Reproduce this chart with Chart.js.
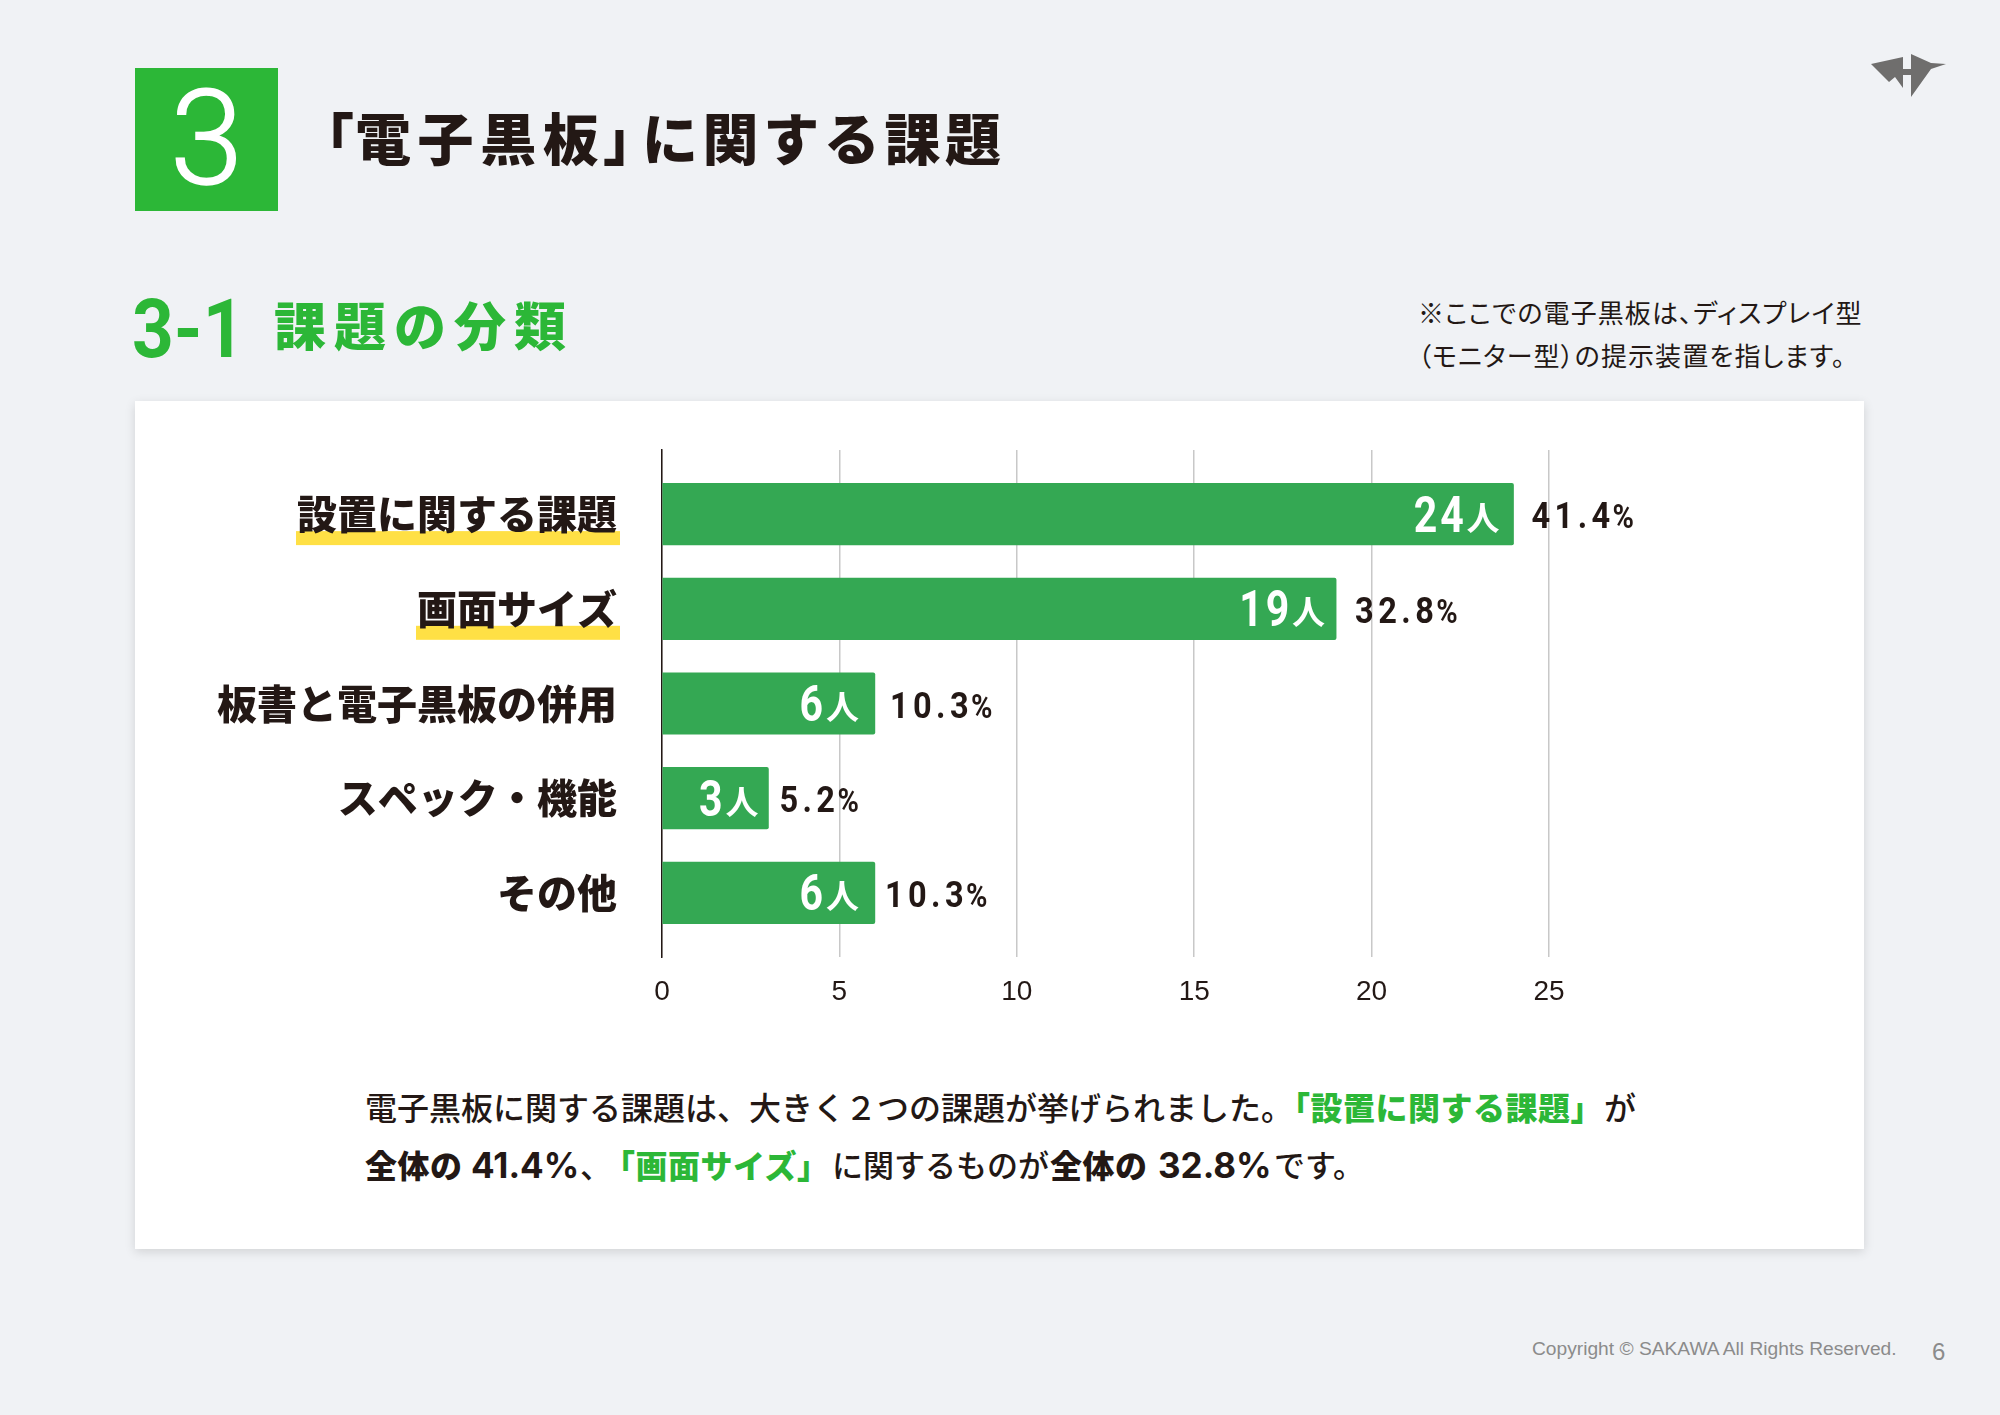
<!DOCTYPE html>
<html lang="ja">
<head>
<meta charset="utf-8">
<title>電子黒板に関する課題</title>
<script src="https://cdn.jsdelivr.net/npm/chart.js@4"></script>
<style>
  html, body { margin: 0; padding: 0; }
  body { width: 2000px; height: 1415px; background: #f0f2f5; position: relative; overflow: hidden;
         font-family: "Noto Sans CJK JP", sans-serif; color: #231815; }
  .t { position: absolute; white-space: nowrap; line-height: 1; }
  #numBox { position: absolute; left: 135px; top: 68px; width: 143px; height: 143px; background: #2cb737; }
  #num { left: 135px; top: 73px; width: 143px; text-align: center; color: #fff;
         font: 300 132px Roboto, sans-serif; line-height: 132px; -webkit-text-stroke: 1.5px #fff; }
  .title { font-size: 56px; font-weight: 900; top: 108px; letter-spacing: 4.6px; }
  .sub { color: #2cb737; }
  #subNum { left: 132px; top: 288px; font: 700 82px Roboto, sans-serif; line-height: 1;
            transform: scaleX(.89); transform-origin: left top; }
  #subTitle { left: 274px; top: 298px; font-size: 52px; font-weight: 900; letter-spacing: 8px; }
  .note { left: 1418px; font-size: 26px; font-weight: 400; font-feature-settings: "palt"; letter-spacing: 1.1px; }
  #card { position: absolute; left: 135px; top: 401px; width: 1729px; height: 848px; background: #fff;
          box-shadow: 0 3px 10px rgba(0, 0, 0, .13); }
  #chart { position: absolute; left: 0; top: 0; }
  .body { font-size: 32px; font-weight: 500; }
  .l1 { top: 1090px; }
  .l2 { top: 1148px; }
  .bold { font-size: 32px; font-weight: 800; letter-spacing: .5px; }
  .green { font-size: 32px; font-weight: 800; letter-spacing: .5px; color: #2cb737; }
  .pct { font: 700 35px Inter, sans-serif; line-height: 1; }
  #copy { left: 1532px; top: 1338px; font: 400 19.2px "Liberation Sans", sans-serif; color: #8b8b8b; }
  #page { left: 1932px; top: 1338px; font: 400 24px "Liberation Sans", sans-serif; color: #8b8b8b; }
  #logo { position: absolute; left: 0; top: 0; }
</style>
</head>
<body>
<div id="numBox"></div>
<div class="t" id="num">3</div>

<div class="t title" style="left:298px">「</div>
<div class="t title" style="left:355px;letter-spacing:6.6px">電子黒板</div>
<div class="t title" style="left:603px">」</div>
<div class="t title" style="left:642px">に関する課題</div>

<div class="t sub" id="subNum">3-1</div>
<div class="t sub" id="subTitle">課題の分類</div>

<div class="t note" style="top:299px">※ここでの電子黒板は、ディスプレイ型</div>
<div class="t note" style="top:342px">（モニター型）の提示装置を指します。</div>

<svg id="logo" width="2000" height="120">
  <path fill="#6f6e6d" d="M1871 64 L1903 57 L1903 69 L1911 69 L1911 54 L1931 63 L1946 64 L1931 69 L1911 97 L1911 75 L1903 75 L1903 88 L1895 77 L1889 82 Z"/>
</svg>

<div id="card"><canvas id="chart" width="1729" height="639"></canvas></div>

<div class="t body l1" style="left:365px">電子黒板に関する課題は、大きく２つの課題が挙げられました。</div>
<div class="t body l1 green" style="left:1278px">「設置に関する課題」</div>
<div class="t body l1" style="left:1604px">が</div>

<div class="t body l2 bold" style="left:365px">全体の</div>
<div class="t l2 pct" style="left:471px">41.4%</div>
<div class="t body l2" style="left:580px">、</div>
<div class="t body l2 green" style="left:603px">「画面サイズ」</div>
<div class="t body l2" style="left:832px;font-size:31px">に関するものが</div>
<div class="t body l2 bold" style="left:1050px">全体の</div>
<div class="t l2 pct" style="left:1158px">32.8%</div>
<div class="t body l2" style="left:1274px;font-size:31px">です。</div>

<div class="t" id="copy">Copyright © SAKAWA All Rights Reserved.</div>
<div class="t" id="page">6</div>

<script>
const categories = ['設置に関する課題', '画面サイズ', '板書と電子黒板の併用', 'スペック・機能', 'その他'];
const counts = [24, 19, 6, 3, 6];
const shares = ['41.4', '32.8', '10.3', '5.2', '10.3'];
const xTicks = [0, 5, 10, 15, 20, 25];
const highlighted = [0, 1];

const inkColor = '#231815';
const jpFont = '"Noto Sans CJK JP", sans-serif';
const numFont = 'Roboto, sans-serif';

// gap between bar end and the outside label, differs per row in the original
const shareGaps = [18, 19, 15, 11, 10];
const countInset = [14, 11, 16, 10, 16];

// no condensed face is installed, so squeeze the digits horizontally
function drawNarrow(ctx, text, x, y, sx, align) {
  ctx.save();
  ctx.translate(x, y);
  ctx.scale(sx, 1);
  ctx.textAlign = align;
  ctx.fillText(text, 0, 0);
  ctx.restore();
  return ctx.measureText(text).width * sx;
}

const highlightPlugin = {
  id: 'highlight',
  beforeDraw(chart) {
    const ctx = chart.ctx;
    const yScale = chart.scales.y;
    ctx.save();
    ctx.fillStyle = '#ffe045';
    ctx.font = '900 40px ' + jpFont;
    highlighted.forEach(i => {
      const w = ctx.measureText(categories[i]).width + 4;
      const right = yScale.left + yScale.width - 42;
      ctx.fillRect(right - w, yScale.getPixelForValue(i) + 17, w, 14);
    });
    ctx.restore();
  }
};

const barLabelPlugin = {
  id: 'barLabels',
  afterDatasetsDraw(chart) {
    const ctx = chart.ctx;
    const bars = chart.getDatasetMeta(0).data;
    ctx.save();
    ctx.textBaseline = 'middle';
    bars.forEach((bar, i) => {
      // count inside the bar, drawn right to left
      let x = bar.x - countInset[i];
      ctx.fillStyle = '#fff';
      ctx.letterSpacing = '0px';
      ctx.font = '700 33px ' + jpFont;
      ctx.textAlign = 'right';
      ctx.fillText('人', x, bar.y + 3);
      x -= ctx.measureText('人').width;
      ctx.letterSpacing = '3.5px';
      ctx.font = '700 50px ' + numFont;
      drawNarrow(ctx, String(counts[i]), x, bar.y + 5, 0.82, 'right');

      // share outside the bar
      x = bar.x + shareGaps[i];
      ctx.fillStyle = inkColor;
      ctx.letterSpacing = '5px';
      ctx.font = '700 37px ' + numFont;
      x += drawNarrow(ctx, shares[i], x, bar.y + 5, 0.88, 'left');
      ctx.letterSpacing = '0px';
      ctx.font = '700 33px ' + numFont;
      drawNarrow(ctx, '%', x - 2, bar.y + 6, 0.88, 'left');
    });
    ctx.restore();
  }
};

new Chart(document.getElementById('chart'), {
  type: 'bar',
  data: {
    datasets: [{
      data: counts.map((v, i) => ({ x: v, y: i })),
      backgroundColor: '#34a853',
      barThickness: 61.5,
      borderRadius: 2,
      borderSkipped: 'start'
    }]
  },
  options: {
    indexAxis: 'y',
    responsive: false,
    animation: false,
    devicePixelRatio: 1,
    layout: { padding: { top: 49, right: 315, left: 0, bottom: 0 } },
    plugins: { legend: { display: false }, tooltip: { enabled: false } },
    scales: {
      x: {
        type: 'linear',
        min: 0,
        max: 25,
        afterBuildTicks(scale) { scale.ticks = xTicks.map(v => ({ value: v })); },
        afterFit(scale) { scale.height = 83; },
        grid: { color: '#c8c8c8', lineWidth: 1.5, drawTicks: false },
        border: { display: false },
        ticks: { color: inkColor, padding: 18, maxRotation: 0, font: { family: 'Liberation Sans', size: 28 } }
      },
      y: {
        type: 'linear',
        reverse: true,
        offset: false,
        min: -0.677,
        max: 4.677,
        afterFit(scale) { scale.width = 527; scale.paddingTop = 0; scale.paddingBottom = 0; },
        grid: { display: false, drawTicks: false },
        border: { display: true, color: inkColor, width: 1.5 },
        ticks: {
          stepSize: 1,
          autoSkip: false,
          padding: 45,
          color: inkColor,
          font: { family: 'Noto Sans CJK JP', size: 40, weight: '900' },
          callback: v => categories[v] ?? ''
        }
      }
    }
  },
  plugins: [highlightPlugin, barLabelPlugin]
});
</script>
</body>
</html>
